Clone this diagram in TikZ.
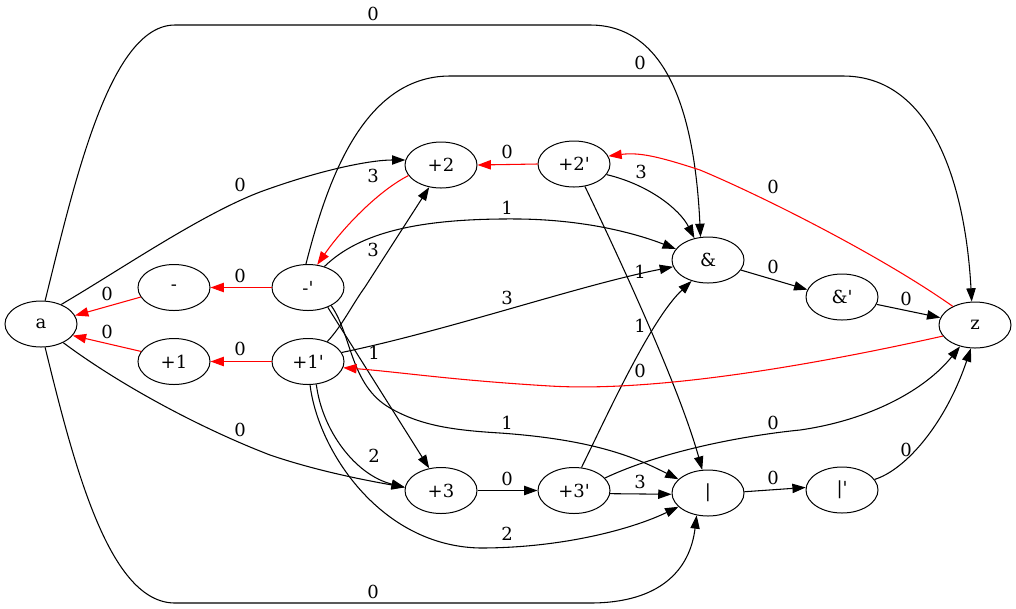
\documentclass[tikz,border=0pt]{standalone}
\usepackage{fontspec}
\setmainfont{DejaVu Serif}
\usetikzlibrary{arrows.meta,shapes.geometric}
\begin{document}
\begin{tikzpicture}[x=0.75pt,y=-0.75pt,
  gnode/.style={ellipse,draw,line width=0.75pt,minimum width=54pt,minimum height=34.5pt,inner sep=0pt,font=\fontsize{13.5}{16}\selectfont},
  elab/.style={inner sep=0pt,font=\fontsize{13.5}{16}\selectfont},
  arr/.style={draw,line width=0.8pt,-{Triangle[length=10pt,width=7pt]}},
  redarr/.style={arr,red}]
\useasboundingbox (0,0) rectangle (1016,608);
% nodes
\node[gnode] (a) at (41,324) {a};
\node[gnode] (minus) at (174,287.5) {-};
\node[gnode] (pone) at (174,361.5) {+1};
\node[gnode] (mp) at (308,287.5) {-\textquotesingle};
\node[gnode] (pop) at (308,361.5) {+1\textquotesingle};
\node[gnode] (ptwo) at (441,165) {+2};
\node[gnode] (ptwop) at (574,164) {+2\textquotesingle};
\node[gnode] (pthree) at (441,490.5) {+3};
\node[gnode] (pthreep) at (574,490.5) {+3\textquotesingle};
\node[gnode] (amp) at (708,260) {\&};
\node[gnode] (ampp) at (842,297) {\&\textquotesingle};
\node[gnode] (bar) at (708,493) {|};
\node[gnode] (barp) at (842,490) {|\textquotesingle};
\node[gnode] (z) at (975,325) {z};
% black edges
\path[arr] (a.80) .. controls (75,180) and (110,25) .. (175,25) -- (590,25) .. controls (670,25) and (695,120) .. (amp.108);
\path[arr] (a.44) .. controls (120,270) and (200,215) .. (260,192) .. controls (320,170) and (370,160) .. (ptwo.172);
\path[arr] (a.-40) .. controls (120,385) and (200,428) .. (270,455) .. controls (320,472) and (370,481) .. (pthree.175);
\path[arr] (a.-80) .. controls (75,470) and (110,603) .. (175,603) -- (590,603) .. controls (660,603) and (690,570) .. (bar.-117);
\path[arr] (mp.95) .. controls (325,190) and (360,76) .. (450,76) -- (843,76) .. controls (930,76) and (965,180) .. (z.98);
\path[arr] (mp.52) .. controls (360,232) and (420,218) .. (520,219) .. controls (590,220) and (640,235) .. (amp.161);
\path[arr] (mp.-45) -- (pthree.118);
\path[arr] (mp.-38) .. controls (352,335) and (350,385) .. (390,408) .. controls (420,425) and (450,430) .. (500,433) .. controls (600,440) and (640,460) .. (bar.155);
\path[arr] (pop.46) .. controls (342,326) and (352,305) .. (365,287) -- (ptwo.-118);
\path[arr] (pop.15) .. controls (450,330) and (580,285) .. (amp.191);
\path[arr] (pop.-70) .. controls (322,430) and (355,475) .. (pthree.175);
\path[arr] (pop.-85) .. controls (318,450) and (380,546) .. (480,548) .. controls (560,548) and (630,530) .. (bar.-155);
\path[arr] (ptwop.-18) .. controls (650,185) and (680,210) .. (amp.122);
\path[arr] (ptwop.-64) .. controls (625,270) and (680,390) .. (bar.104);
\path[arr] (pthreep.72) .. controls (605,420) and (650,320) .. (amp.-128);
\path[arr] (pthreep.-5) -- (bar.182);
\path[arr] (pthreep.22) .. controls (660,452) and (740,436) .. (800,430) .. controls (870,420) and (925,390) .. (z.-125);
\path[arr] (pthree.0) -- (pthreep.180);
\path[arr] (amp.-17) -- (ampp.168);
\path[arr] (ampp.-12) -- (z.168);
\path[arr] (bar.2) -- (barp.176);
\path[arr] (barp.18) .. controls (905,470) and (945,425) .. (z.-100);
% red edges
\path[redarr] (ptwo.-162) .. controls (380,190) and (345,225) .. (mp.68);
\path[redarr] (ptwop.180) -- (ptwo.0);
\path[redarr] (mp.180) -- (minus.0);
\path[redarr] (pop.180) -- (pone.0);
\path[redarr] (minus.196) -- (a.14);
\path[redarr] (pone.163) -- (a.-20);
\path[redarr] (z.140) .. controls (880,255) and (760,195) .. (700,170) .. controls (660,157) and (640,152) .. (ptwop.13);
\path[redarr] (z.199) .. controls (800,368) and (650,392) .. (550,386) .. controls (450,380) and (400,372) .. (pop.-10);
% labels
\node[elab] (l1) at (373,14) {0};
\node[elab] (l2) at (640,63) {0};
\node[elab] (l3) at (240,185) {0};
\node[elab] (l4) at (373,176) {3};
\node[elab] (l5) at (507,152) {0};
\node[elab] (l6) at (641,172) {3};
\node[elab] (l7) at (773,187) {0};
\node[elab] (l8) at (507,208) {1};
\node[elab] (l9) at (373,250) {3};
\node[elab] (l10) at (240,276) {0};
\node[elab] (l11) at (107,294) {0};
\node[elab] (l12) at (640,272) {1};
\node[elab] (l13) at (773,267) {0};
\node[elab] (l14) at (507,298) {3};
\node[elab] (l15) at (906,299) {0};
\node[elab] (l16) at (107,332) {0};
\node[elab] (l17) at (240,349) {0};
\node[elab] (l18) at (374,353) {1};
\node[elab] (l19) at (640,371) {0};
\node[elab] (l20) at (640,326) {1};
\node[elab] (l21) at (240,430) {0};
\node[elab] (l22) at (507,423) {1};
\node[elab] (l23) at (773,423) {0};
\node[elab] (l24) at (906,450) {0};
\node[elab] (l25) at (374,456) {2};
\node[elab] (l26) at (507,479) {0};
\node[elab] (l27) at (640,482) {3};
\node[elab] (l28) at (773,478) {0};
\node[elab] (l29) at (507,534) {2};
\node[elab] (l30) at (373,592) {0};
\end{tikzpicture}
\end{document}
